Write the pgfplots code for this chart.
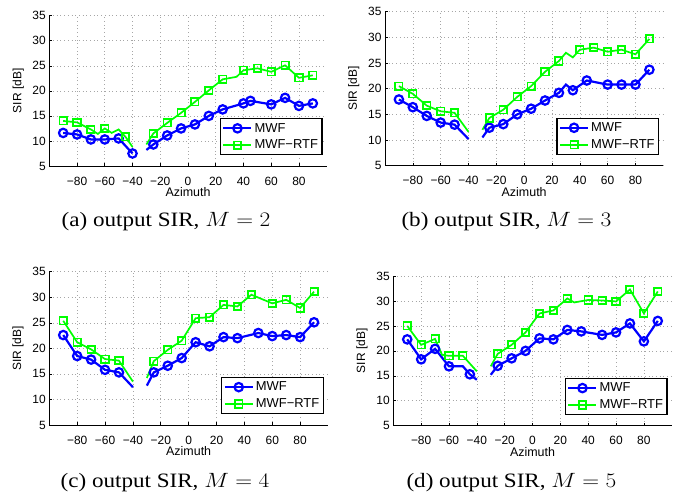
\documentclass[border=0pt]{standalone}
\usepackage{fontspec}
\setmainfont{Liberation Serif}
\newfontfamily\hv{Liberation Sans}
\usepackage{pgfplots}
\pgfplotsset{compat=1.18}
\definecolor{mgreen}{RGB}{0,255,0}
\definecolor{mblue}{RGB}{0,0,255}

\pgfplotsset{
  sirplot/.style={
    scale only axis,
    xmin=-100, xmax=100, ymin=5, ymax=35,
    xtick={-80,-60,...,80},
    xticklabels={−80,−60,−40,−20,0,20,40,60,80},
    ytick={5,10,...,35},
    axis x line*=bottom, axis y line*=left,
    axis line style={-, line width=0.9bp},
    tick align=inside, major tick length=3bp,
    tick style={black, line width=0.6bp},
    xmajorgrids, ymajorgrids,
    grid style={gray!70, line width=0.6bp, dash pattern=on 0.7bp off 3bp},
    /pgf/number format/assume math mode=true,
    ticklabel style={font=\hv\fontsize{12}{13}\selectfont},
    xticklabel style={inner sep=1bp, yshift=-9.5bp},
    xlabel={Azimuth}, ylabel={SIR [dB]},
    xlabel style={font=\hv\fontsize{12.5}{14}\selectfont, inner sep=1bp,
      at={(axis description cs:0.5,0)}, anchor=base, yshift=-30.5bp},
    ylabel style={font=\hv\fontsize{12}{13}\selectfont,
      at={(axis description cs:-0.112,0.5)}, anchor=center},
    unbounded coords=jump,
    legend style={at={(0.985,0.07)}, anchor=south east, draw=black,
      line width=1.1bp, font=\hv\fontsize{13}{15}\selectfont,
      inner xsep=2bp, inner ysep=2.5bp, row sep=2.5bp, cells={anchor=west}},
    legend image code/.code={\draw[mark repeat=2,mark phase=2]
      plot coordinates {(0bp,0bp) (14bp,0bp) (28bp,0bp)};},
  },
  mwf/.style={mblue, line width=2.2bp, mark=o, mark size=4.2bp},
  rtf/.style={mgreen, line width=1.7bp, mark=square, mark size=3.7bp},
}
\tikzset{capt/.style={anchor=base, font=\fontsize{20.5}{23}\selectfont,
  xscale=1.13, transform shape}}

\begin{document}
\begin{tikzpicture}
\path (0,0) rectangle (683bp,-491bp);

% (a) M = 2
\begin{axis}[sirplot, at={(49.3bp,-166bp)}, anchor=south west,
  width=277.4bp, height=150.3bp]
\addplot[mwf, no markers, forget plot] coordinates {
(-90,11.6) (-80,11.3) (-70,10.3) (-60,10.3) (-50,10.5) (-40,7.5) (-35,nan)
(-30,8.2) (-25,9.3) (-15,11.1) (-5,12.5) (5,13.3) (15,15.0) (25,16.3)
(40,17.5) (45,18.0) (60,17.3) (70,18.6) (80,17.0) (90,17.5)};
\addplot[mwf, only marks, forget plot] coordinates {
(-90,11.6) (-80,11.3) (-70,10.3) (-60,10.3) (-50,10.5) (-40,7.5)
(-25,9.3) (-15,11.1) (-5,12.5) (5,13.3) (15,15.0) (25,16.3)
(40,17.5) (45,18.0) (60,17.3) (70,18.6) (80,17.0) (90,17.5)};
\addplot[rtf, no markers, forget plot] coordinates {
(-90,14.0) (-80,13.7) (-70,12.3) (-65,11.4) (-60,12.5) (-55,11.6) (-50,12.3)
(-45,10.8) (-40,8.8) (-35,nan) (-30,9.3) (-25,11.5) (-15,13.6) (-5,15.6)
(5,17.8) (15,20.1) (25,22.3) (35,22.8) (40,24.1) (50,24.5) (60,23.8)
(70,25.1) (80,22.6) (90,23.1)};
\addplot[rtf, only marks, forget plot] coordinates {
(-90,14.0) (-80,13.7) (-70,12.3) (-60,12.5) (-45,10.8) (-25,11.5) (-15,13.6)
(-5,15.6) (5,17.8) (15,20.1) (25,22.3) (40,24.1) (50,24.5) (60,23.8)
(70,25.1) (80,22.6) (90,23.1)};
\addlegendimage{mwf}
\addlegendimage{rtf}
\legend{MWF,MWF−RTF}
\end{axis}
\node[capt] at (166bp,-226bp) {(a) output SIR, $M=2$};

% (b) M = 3
\begin{axis}[sirplot, at={(385bp,-165.7bp)}, anchor=south west,
  width=278.3bp, height=154bp]
\addplot[mwf, no markers, forget plot] coordinates {
(-90,17.9) (-80,16.4) (-70,14.7) (-60,13.4) (-50,13.0) (-40,10.2) (-35,nan)
(-30,10.5) (-25,12.4) (-15,13.1) (-5,15.0) (5,16.1) (15,17.7) (25,19.2)
(30,20.8) (35,19.7) (45,21.6) (60,20.8) (70,20.8) (80,20.8) (90,23.7)};
\addplot[mwf, only marks, forget plot] coordinates {
(-90,17.9) (-80,16.4) (-70,14.7) (-60,13.4) (-50,13.0)
(-25,12.4) (-15,13.1) (-5,15.0) (5,16.1) (15,17.7) (25,19.2)
(35,19.7) (45,21.6) (60,20.8) (70,20.8) (80,20.8) (90,23.7)};
\addplot[rtf, no markers, forget plot] coordinates {
(-90,20.5) (-80,19.0) (-70,16.7) (-60,15.6) (-50,15.3) (-40,11.6) (-35,nan)
(-30,12.0) (-25,14.3) (-15,15.9) (-5,18.4) (5,20.5) (15,23.3) (25,25.4)
(30,27.0) (35,26.1) (40,27.6) (50,28.0) (60,27.2) (70,27.6) (80,26.7) (90,29.7)};
\addplot[rtf, only marks, forget plot] coordinates {
(-90,20.5) (-80,19.0) (-70,16.7) (-60,15.6) (-50,15.3)
(-25,14.3) (-15,15.9) (-5,18.4) (5,20.5) (15,23.3) (25,25.4)
(40,27.6) (50,28.0) (60,27.2) (70,27.6) (80,26.7) (90,29.7)};
\addlegendimage{mwf}
\addlegendimage{rtf}
\legend{MWF,MWF−RTF}
\end{axis}
\node[capt] at (506.5bp,-226bp) {(b) output SIR, $M=3$};

% (c) M = 4
\begin{axis}[sirplot, at={(49.3bp,-425bp)}, anchor=south west,
  width=278.7bp, height=153.3bp]
\addplot[mwf, no markers, forget plot] coordinates {
(-90,22.6) (-80,18.5) (-70,17.8) (-60,15.8) (-50,15.3) (-40,12.4) (-35,nan)
(-30,12.7) (-25,15.3) (-15,16.6) (-5,18.1) (5,21.2) (15,20.4) (25,22.2)
(35,22.0) (50,23.0) (60,22.4) (70,22.6) (80,22.2) (90,25.1)};
\addplot[mwf, only marks, forget plot] coordinates {
(-90,22.6) (-80,18.5) (-70,17.8) (-60,15.8) (-50,15.3)
(-25,15.3) (-15,16.6) (-5,18.1) (5,21.2) (15,20.4) (25,22.2)
(35,22.0) (50,23.0) (60,22.4) (70,22.6) (80,22.2) (90,25.1)};
\addplot[rtf, no markers, forget plot] coordinates {
(-90,25.4) (-80,21.2) (-70,19.8) (-60,17.9) (-50,17.6) (-40,13.5) (-35,nan)
(-30,14.2) (-25,17.5) (-15,19.7) (-5,21.5) (5,25.9) (15,26.1) (25,28.5)
(35,28.2) (45,30.5) (60,28.8) (70,29.5) (80,27.9) (90,31.1)};
\addplot[rtf, only marks, forget plot] coordinates {
(-90,25.4) (-80,21.2) (-70,19.8) (-60,17.9) (-50,17.6)
(-25,17.5) (-15,19.7) (-5,21.5) (5,25.9) (15,26.1) (25,28.5)
(35,28.2) (45,30.5) (60,28.8) (70,29.5) (80,27.9) (90,31.1)};
\addlegendimage{mwf}
\addlegendimage{rtf}
\legend{MWF,MWF−RTF}
\end{axis}
\node[capt] at (165bp,-487bp) {(c) output SIR, $M=4$};

% (d) M = 5
\begin{axis}[sirplot, at={(393.3bp,-425.7bp)}, anchor=south west,
  width=278.4bp, height=149.7bp]
\addplot[mwf, no markers, forget plot] coordinates {
(-90,22.3) (-80,18.3) (-70,20.4) (-60,16.9) (-50,16.9) (-45,15.3) (-40,14.2)
(-35,nan) (-30,15.2) (-25,17.0) (-15,18.5) (-5,20.0) (5,22.5) (15,22.3)
(25,24.2) (35,23.9) (50,23.2) (60,23.7) (70,25.5) (80,21.9) (90,26.0)};
\addplot[mwf, only marks, forget plot] coordinates {
(-90,22.3) (-80,18.3) (-70,20.4) (-60,16.9) (-45,15.3)
(-25,17.0) (-15,18.5) (-5,20.0) (5,22.5) (15,22.3)
(25,24.2) (35,23.9) (50,23.2) (60,23.7) (70,25.5) (80,21.9) (90,26.0)};
\addplot[rtf, no markers, forget plot] coordinates {
(-90,25.0) (-80,21.2) (-70,22.4) (-65,19.2) (-60,19.0) (-50,19.0) (-40,15.9)
(-35,nan) (-30,16.9) (-25,19.4) (-15,21.2) (-5,23.7) (5,27.5) (15,28.1)
(25,30.5) (30,29.7) (40,30.2) (50,30.1) (60,29.9) (70,32.3) (80,27.5) (90,31.9)};
\addplot[rtf, only marks, forget plot] coordinates {
(-90,25.0) (-80,21.2) (-70,22.4) (-60,19.0) (-50,19.0)
(-25,19.4) (-15,21.2) (-5,23.7) (5,27.5) (15,28.1)
(25,30.5) (40,30.2) (50,30.1) (60,29.9) (70,32.3) (80,27.5) (90,31.9)};
\addlegendimage{mwf}
\addlegendimage{rtf}
\legend{MWF,MWF−RTF}
\end{axis}
\node[capt] at (511.5bp,-487bp) {(d) output SIR, $M=5$};
\end{tikzpicture}
\end{document}
